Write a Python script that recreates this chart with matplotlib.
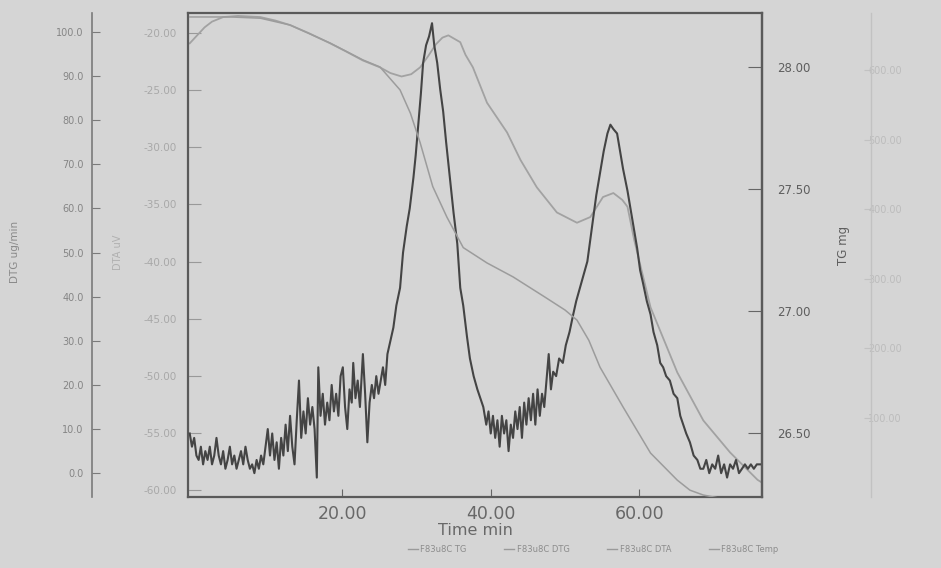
import matplotlib
matplotlib.use("Agg")
import matplotlib.pyplot as plt
from matplotlib.lines import Line2D

# values
dtg_time = [-0.5, -0.2, 0.1, 0.4, 0.7, 1.0, 1.3, 1.6, 1.9, 2.2, 2.5, 2.8, 3.1, 3.4, 3.7,
            4.0, 4.3, 4.6, 4.9, 5.2, 5.5, 5.8, 6.1, 6.4, 6.7, 7.0, 7.3, 7.6, 7.9, 8.2,
            8.5, 8.8, 9.1, 9.4, 9.7, 10.0, 10.3, 10.6, 10.9, 11.2, 11.5, 11.8, 12.1, 12.4,
            12.7, 13.0, 13.3, 13.6, 13.9, 14.2, 14.5, 14.8, 15.1, 15.4, 15.7, 16.0, 16.3,
            16.6, 16.8, 17.1, 17.4, 17.7, 18.0, 18.3, 18.6, 18.9, 19.2, 19.5, 19.8, 20.1,
            20.4, 20.7, 21.0, 21.3, 21.5, 21.8, 22.1, 22.4, 22.8, 23.1, 23.4, 23.7, 24.0,
            24.3, 24.6, 24.9, 25.2, 25.5, 25.8, 26.1, 26.5, 26.9, 27.3, 27.8, 28.2, 28.7,
            29.1, 29.6, 29.9, 30.2, 30.6, 30.9, 31.3, 31.7, 32.1, 32.4, 32.8, 33.2, 33.6,
            34.0, 34.5, 35.0, 35.5, 35.9, 36.3, 36.8, 37.2, 37.7, 38.2, 38.6, 39.0, 39.4,
            39.7, 40.0, 40.3, 40.6, 40.9, 41.2, 41.5, 41.8, 42.1, 42.4, 42.7, 43.0, 43.3,
            43.6, 43.9, 44.2, 44.5, 44.8, 45.1, 45.4, 45.7, 46.0, 46.3, 46.6, 46.9, 47.2,
            47.5, 47.8, 48.1, 48.4, 48.8, 49.2, 49.7, 50.1, 50.6, 51.1, 51.5, 52.0, 52.5,
            53.0, 53.4, 53.8, 54.2, 54.7, 55.2, 55.7, 56.1, 56.5, 57.0, 57.4, 57.8, 58.4,
            59.0, 59.4, 59.7, 60.1, 60.5, 61.0, 61.5, 61.9, 62.4, 62.8, 63.2, 63.6, 64.1,
            64.6, 65.1, 65.5, 65.9, 66.3, 66.8, 67.3, 67.8, 68.2, 68.6, 69.0, 69.4, 69.8,
            70.2, 70.6, 71.0, 71.4, 71.8, 72.2, 72.6, 73.0, 73.4, 73.8, 74.2, 74.6, 75.0,
            75.4, 75.8, 76.3]
dtg_val = [9, 6, 8, 4, 3, 6, 2, 5, 3, 6, 2, 4, 8, 4, 2,
           5, 1, 3, 6, 2, 4, 1, 3, 5, 2, 6, 3, 1, 2, 0,
           3, 1, 4, 2, 6, 10, 4, 9, 3, 7, 1, 8, 4, 11,
           5, 13, 6, 2, 12, 21, 8, 14, 9, 17, 11, 15, 10,
           -1, 24, 13, 18, 11, 16, 12, 20, 14, 18, 13, 22, 24,
           15, 10, 19, 16, 25, 17, 21, 15, 27, 18, 7, 16, 20,
           17, 22, 18, 21, 24, 20, 27, 30, 33, 38, 42, 50, 56,
           60, 67, 72, 78, 86, 93, 97, 99, 102, 97, 93, 87, 82,
           75, 67, 59, 52, 42, 38, 31, 26, 22, 19, 17, 15, 11,
           14, 9, 13, 8, 12, 6, 13, 9, 12, 5, 11, 8, 14,
           10, 15, 8, 16, 11, 17, 12, 18, 11, 19, 13, 18, 15,
           21, 27, 19, 23, 22, 26, 25, 29, 32, 36, 39, 42, 45,
           48, 53, 58, 63, 68, 73, 77, 79, 78, 77, 73, 69, 64,
           58, 54, 51, 46, 43, 39, 36, 32, 29, 25, 24, 22, 21,
           18, 17, 13, 11, 9, 7, 4, 3, 1, 1, 3, 0, 2,
           1, 4, 0, 2, -1, 2, 1, 3, 0, 1, 2, 1, 2,
           1, 2, 2]

dta_time = [-0.5, 0.5, 1.5, 2.5, 4.0, 6.0, 9.0, 11.0, 13.0, 15.5, 18.4, 20.5, 22.8,
            25.1, 26.5, 28.0, 29.3, 30.5, 31.6, 32.6, 33.5, 34.3, 35.9, 36.6, 37.6,
            39.5, 42.2, 44.0, 46.2, 48.9, 51.6, 53.4, 55.1, 56.5, 57.7, 58.4, 59.3,
            61.5, 65.1, 68.6, 72.2, 75.9, 76.4]
dta_val = [-20.9, -20.2, -19.5, -19.0, -18.6, -18.5, -18.6, -18.9, -19.3, -20.0,
           -20.9, -21.6, -22.4, -23.0, -23.5, -23.8, -23.6, -23.0, -22.0, -21.0,
           -20.4, -20.2, -20.8, -21.9, -23.0, -26.1, -28.7, -31.1, -33.5, -35.7,
           -36.6, -36.1, -34.35, -34.0, -34.6, -35.2, -38.1, -44.0, -49.7, -53.9,
           -56.7, -59.1, -59.3]

tg_time = [-0.5, 5.0, 9.0, 13.0, 18.4, 22.8, 25.1, 27.8, 29.2, 30.5, 32.2, 34.1,
           36.3, 39.5, 43.0, 47.3, 50.0, 51.6, 53.2, 54.7, 57.8, 61.5, 65.1, 66.8,
           68.6, 70.5]
tg_val = [28.205, 28.205, 28.20, 28.172, 28.098, 28.029, 28.00, 27.906, 27.81,
          27.69, 27.51, 27.385, 27.26, 27.197, 27.14, 27.057, 27.004, 26.963,
          26.88, 26.77, 26.607, 26.418, 26.307, 26.266, 26.246, 26.235]

time_ticks = [20, 40, 60]
dtg_ticks = [0, 10, 20, 30, 40, 50, 60, 70, 80, 90, 100]
dta_ticks = [-60, -55, -50, -45, -40, -35, -30, -25, -20]
tg_ticks = [26.5, 27.0, 27.5, 28.0]
temp_ticks = [100, 200, 300, 400, 500, 600]
legend_labels = ["F83u8C TG", "F83u8C DTG", "F83u8C DTA", "F83u8C Temp"]

paper = "#d5d5d5"

fig = plt.figure(figsize=(9.41, 5.68), dpi=100, facecolor=paper)
ax = fig.add_axes([0.1998, 0.125, 0.61, 0.852])
ax.set_facecolor(paper)

# DTA on the box's own left side
ax.plot(dta_time, dta_val, color="#a2a2a2", lw=1.3)
ax.set_xlim(-0.73, 76.5)
ax.set_ylim(-60.6, -18.25)
ax.set_yticks(dta_ticks, labels=["%.2f" % v for v in dta_ticks])
ax.set_xticks(time_ticks, labels=["%.2f" % v for v in time_ticks])
ax.tick_params(axis="y", direction="in", length=9, color="#999999",
               labelsize=7.5, labelcolor="#a8a8a8", pad=8)
ax.tick_params(axis="x", direction="in", length=6, color="#666666",
               labelsize=12.5, labelcolor="#686868", pad=6)
ax.set_xlabel("Time min", fontsize=11.5, color="#686868", labelpad=0)
for s in ax.spines.values():
    s.set_color("#5a5a5a")
    s.set_linewidth(1.6)

# DTG, spine far left
ax2 = ax.twinx()
ax2.spines["left"].set_position(("axes", -0.1672))
ax2.spines["left"].set_visible(True)
ax2.spines["left"].set_color("#7a7a7a")
ax2.spines["left"].set_linewidth(1.2)
ax2.spines["right"].set_visible(False)
ax2.spines["top"].set_visible(False)
ax2.spines["bottom"].set_visible(False)
ax2.yaxis.set_ticks_position("left")
ax2.yaxis.set_label_position("left")
ax2.plot(dtg_time, dtg_val, color="#444444", lw=1.5)
ax2.set_ylim(-5.4, 104.3)
ax2.set_yticks(dtg_ticks, labels=["%.1f" % v for v in dtg_ticks])
ax2.tick_params(axis="y", direction="in", length=6, color="#7a7a7a",
                labelsize=7, labelcolor="#858585", pad=6)

# TG on the right side of the box
ax3 = ax.twinx()
for side in ["left", "top", "bottom"]:
    ax3.spines[side].set_visible(False)
ax3.spines["right"].set_color("#5a5a5a")
ax3.spines["right"].set_linewidth(1.6)
ax3.plot(tg_time, tg_val, color="#9c9c9c", lw=1.1)
ax3.set_ylim(26.238, 28.221)
ax3.set_yticks(tg_ticks, labels=["%.2f" % v for v in tg_ticks])
ax3.tick_params(axis="y", direction="in", length=10, color="#666666",
                labelsize=8.5, labelcolor="#5e5e5e", pad=11)

# faint fourth axis at the far right
ax4 = ax.twinx()
for side in ["left", "top", "bottom"]:
    ax4.spines[side].set_visible(False)
ax4.spines["right"].set_position(("axes", 1.19))
ax4.spines["right"].set_color("#c2c2c2")
ax4.spines["right"].set_linewidth(1.0)
ax4.set_ylim(-13.5, 681.9)
ax4.set_yticks(temp_ticks, labels=["%.2f" % v for v in temp_ticks])
ax4.tick_params(axis="y", direction="in", length=5, color="#c2c2c2",
                labelsize=7, labelcolor="#bcbcbc", pad=-2)

fig.text(15 / 941, 1 - 252 / 568, "DTG ug/min", rotation=90, ha="center",
         va="center", fontsize=7.5, color="#8a8a8a")
fig.text(118 / 941, 1 - 252 / 568, "DTA uV", rotation=90, ha="center",
         va="center", fontsize=7, color="#b0b0b0")
fig.text(843 / 941, 1 - 245 / 568, "TG mg", rotation=90, ha="center",
         va="center", fontsize=8.5, color="#5e5e5e")

handles = [Line2D([], [], color="#9a9a9a", lw=1.0) for _ in legend_labels]
leg = fig.legend(handles, legend_labels, loc="center", ncol=4,
                 bbox_to_anchor=(593 / 941, 1 - 549 / 568), frameon=False,
                 fontsize=6, handlelength=1.2, handletextpad=0.3,
                 columnspacing=4.5)
for t in leg.get_texts():
    t.set_color("#8c8c8c")

fig.savefig("out.png", dpi=100, facecolor=paper)
